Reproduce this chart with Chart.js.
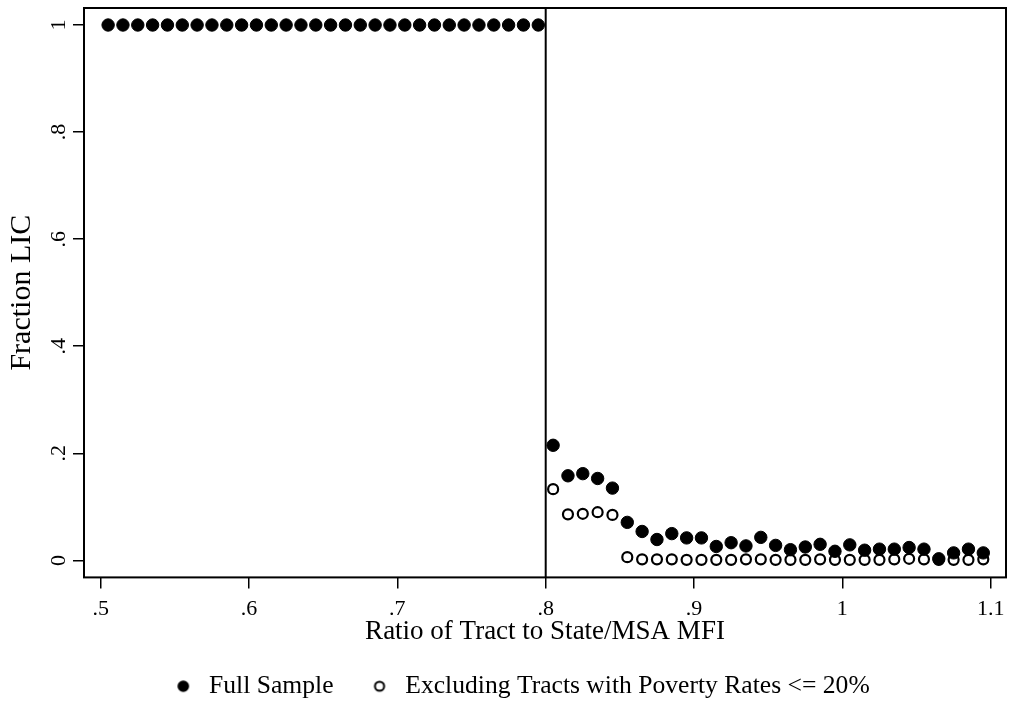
<!DOCTYPE html>
<html>
<head>
<meta charset="utf-8">
<script src="https://cdn.jsdelivr.net/npm/chart.js@4.4.1/dist/chart.umd.min.js"></script>
<style>
html,body{margin:0;padding:0;background:#fff;}
#wrap{width:1010px;height:709px;position:relative;}
</style>
</head>
<body>
<div id="wrap"><canvas id="c"></canvas></div>
<script>
// ---- data ----
const BINS_LEFT = [0.505,0.515,0.525,0.535,0.545,0.555,0.565,0.575,0.585,0.595,
                   0.605,0.615,0.625,0.635,0.645,0.655,0.665,0.675,0.685,0.695,
                   0.705,0.715,0.725,0.735,0.745,0.755,0.765,0.775,0.785,0.795];
const BINS_RIGHT = [0.805,0.815,0.825,0.835,0.845,0.855,0.865,0.875,0.885,0.895,
                    0.905,0.915,0.925,0.935,0.945,0.955,0.965,0.975,0.985,0.995,
                    1.005,1.015,1.025,1.035,1.045,1.055,1.065,1.075,1.085,1.095];
const FULL_LEFT = [1,1,1,1,1,1,1,1,1,1, 1,1,1,1,1,1,1,1,1,1, 1,1,1,1,1,1,1,1,1,1];
const FULL_RIGHT = [0.215,0.158,0.162,0.153,0.135,0.071,0.054,0.039,0.050,0.042,
                    0.042,0.026,0.033,0.027,0.043,0.028,0.020,0.025,0.030,0.017,
                    0.029,0.019,0.021,0.021,0.024,0.021,0.003,0.014,0.021,0.014];
const EXCL_RIGHT = [0.133,0.086,0.087,0.090,0.085,0.006,0.002,0.002,0.002,0.001,
                    0.001,0.001,0.001,0.002,0.002,0.001,0.001,0.001,0.002,0.001,
                    0.001,0.001,0.001,0.002,0.003,0.002,0.001,0.001,0.001,0.002];
const CUTOFF = 0.8;
const SERIES_NAMES = ['Full Sample', 'Excluding Tracts with Poverty Rates <= 20%'];
const X_TICKS = [0.5,0.6,0.7,0.8,0.9,1.0,1.1];
const X_TICK_LABELS = ['.5','.6','.7','.8','.9','1','1.1'];
const Y_TICKS = [0,0.2,0.4,0.6,0.8,1];
const Y_TICK_LABELS = ['0','.2','.4','.6','.8','1'];
const X_RANGE = [0.48874, 1.11031];
const Y_RANGE = [-0.03178, 1.03178];
const X_TITLE = 'Ratio of Tract to State/MSA MFI';
const Y_TITLE = 'Fraction LIC';

// ---- build ----
const fullX = BINS_LEFT.concat(BINS_RIGHT);
const fullY = FULL_LEFT.concat(FULL_RIGHT);
const fullData = fullX.map((x, i) => ({x: x, y: fullY[i]}));
const exclData = BINS_RIGHT.map((x, i) => ({x: x, y: EXCL_RIGHT[i]}));
const cutData = [{x: CUTOFF, y: Y_RANGE[0]}, {x: CUTOFF, y: Y_RANGE[1]}];

function markerCanvas(filled) {
  const c = document.createElement('canvas');
  c.width = 14; c.height = 14;
  const g = c.getContext('2d');
  g.beginPath();
  if (filled) {
    g.arc(7, 7, 5.8, 0, Math.PI * 2);
    g.fillStyle = '#000'; g.fill();
  } else {
    g.arc(7, 7, 4.6, 0, Math.PI * 2);
    g.fillStyle = '#fff'; g.fill();
    g.lineWidth = 2; g.strokeStyle = '#000'; g.stroke();
  }
  return c;
}
const legendMarks = [markerCanvas(true), markerCanvas(false)];

const frame = {
  id: 'frame',
  beforeDatasetsDraw(chart) {
    const {ctx, chartArea: a} = chart;
    ctx.save();
    ctx.strokeStyle = '#000';
    ctx.lineWidth = 2;
    ctx.strokeRect(a.left, a.top, a.right - a.left, a.bottom - a.top);
    ctx.restore();
  }
};

Chart.defaults.font.family = '"Liberation Serif", "Times New Roman", serif';
Chart.defaults.color = '#000';

new Chart(document.getElementById('c'), {
  type: 'scatter',
  data: {
    datasets: [
      {
        label: SERIES_NAMES[0], data: fullData,
        pointRadius: 6.2, pointHoverRadius: 6.2, pointBorderWidth: 1,
        backgroundColor: '#000', borderColor: '#000'
      },
      {
        label: SERIES_NAMES[1], data: exclData,
        pointRadius: 5, pointHoverRadius: 5, pointBorderWidth: 2.2,
        backgroundColor: '#fff', borderColor: '#000'
      },
      {
        type: 'line', label: 'cutoff', data: cutData, showLine: true,
        borderColor: '#000', borderWidth: 2, pointRadius: 0, pointHoverRadius: 0
      }
    ]
  },
  options: {
    responsive: true,
    maintainAspectRatio: false,
    animation: false,
    events: [],
    layout: {autoPadding: false, padding: {left: 34, right: 4, top: 8, bottom: 0}},
    plugins: {
      tooltip: {enabled: false},
      legend: {
        position: 'bottom',
        align: 'center',
        labels: {
          usePointStyle: true,
          pointStyleWidth: 26,
          boxHeight: 14,
          padding: 33,
          font: {size: 25.6},
          color: '#000',
          generateLabels: () => SERIES_NAMES.map((t, i) => ({
            text: t, pointStyle: legendMarks[i], fillStyle: '#000',
            strokeStyle: '#000', lineWidth: 0, hidden: false, datasetIndex: i
          }))
        }
      }
    },
    scales: {
      x: {
        type: 'linear', min: X_RANGE[0], max: X_RANGE[1],
        afterBuildTicks: s => { s.ticks = X_TICKS.map(v => ({value: v})); },
        afterFit: s => { s.height = 63; s.paddingLeft = 0; s.paddingRight = 0; },
        ticks: {
          callback: (v, i) => X_TICK_LABELS[i],
          font: {size: 22}, padding: 8, maxRotation: 0, autoSkip: false
        },
        grid: {display: true, drawOnChartArea: false, drawTicks: true, tickLength: 11, color: '#000', lineWidth: 1.5},
        border: {display: false},
        title: {display: true, text: X_TITLE, font: {size: 27}, padding: {top: 0, bottom: -8}}
      },
      y: {
        type: 'linear', min: Y_RANGE[0], max: Y_RANGE[1],
        afterBuildTicks: s => { s.ticks = Y_TICKS.map(v => ({value: v})); },
        afterFit: s => { s.width = 50; s.paddingTop = 0; s.paddingBottom = 0; },
        ticks: {
          callback: (v, i) => Y_TICK_LABELS[i],
          font: {size: 22}, padding: 6, minRotation: 90, maxRotation: 90,
          crossAlign: 'center', autoSkip: false
        },
        grid: {display: true, drawOnChartArea: false, drawTicks: true, tickLength: 11, color: '#000', lineWidth: 1.5},
        border: {display: false},
        title: {display: true, text: Y_TITLE, font: {size: 30}, padding: {top: -30, bottom: 0}}
      }
    }
  },
  plugins: [frame]
});
</script>
</body>
</html>
